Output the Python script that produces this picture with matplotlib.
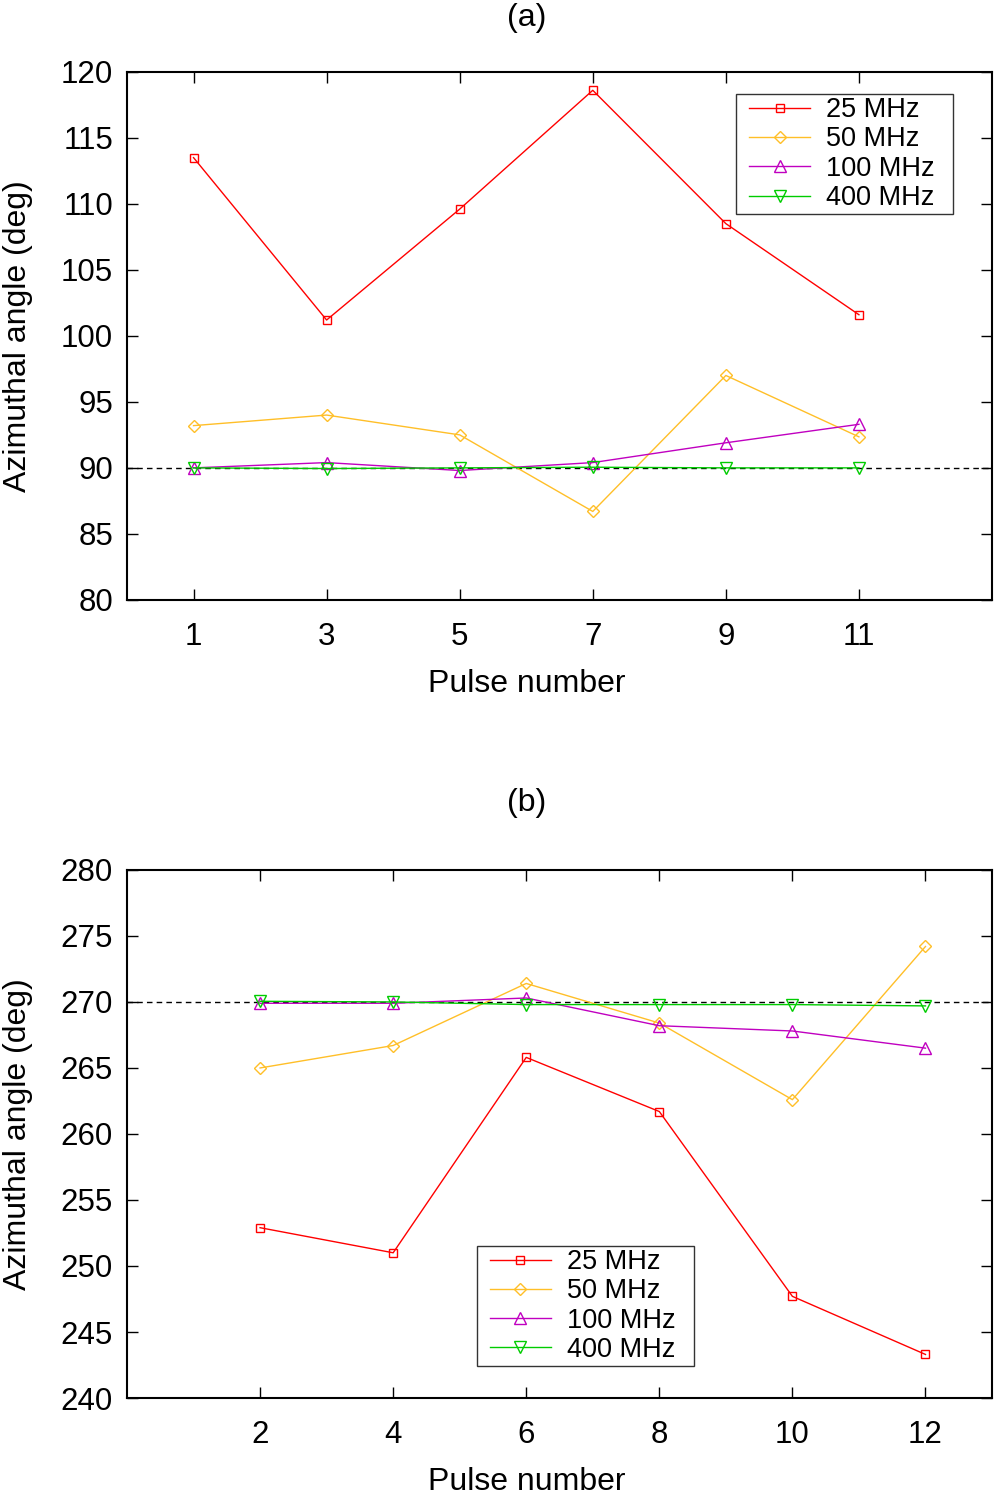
import matplotlib.pyplot as plt
import numpy as np
from matplotlib.legend_handler import HandlerLine2D
from matplotlib.lines import Line2D

plt.rcParams['font.family'] = ['Liberation Sans', 'DejaVu Sans']

# panel (a): odd pulses
pulses_a = [1, 3, 5, 7, 9, 11]
a_25 = [113.5, 101.2, 109.6, 118.6, 108.5, 101.6]
a_50 = [93.2, 94.0, 92.5, 86.7, 97.0, 92.35]
a_100 = [90.0, 90.4, 89.8, 90.4, 91.9, 93.3]
a_400 = [90.0, 89.95, 90.0, 90.05, 90.0, 90.0]

# panel (b): even pulses
pulses_b = [2, 4, 6, 8, 10, 12]
b_25 = [252.9, 251.0, 265.8, 261.7, 247.7, 243.3]
b_50 = [265.0, 266.7, 271.4, 268.4, 262.6, 274.2]
b_100 = [269.9, 269.9, 270.3, 268.2, 267.8, 266.5]
b_400 = [270.05, 270.0, 269.8, 269.8, 269.8, 269.7]

labels = ['25 MHz', '50 MHz', '100 MHz', '400 MHz']
colors = ['#ff0000', '#ffbf28', '#c000c0', '#00cc00']
markers = ['s', 'D', '^', 'v']
msizes = [6, 6, 8, 8]

fig = plt.figure(figsize=(9.96, 14.96), dpi=100)
ax1 = fig.add_axes([0.1275, 0.599, 0.8685, 0.353])
ax2 = fig.add_axes([0.1275, 0.0655, 0.8685, 0.353])


def draw(ax, x, series, ref, ylim, yticks, title, title_y, leg_loc, leg_anchor):
    ax.axhline(ref, color='black', ls=(0, (4, 3)), lw=1.0, zorder=1)
    for y, lab, c, m, ms in zip(series, labels, colors, markers, msizes):
        # trailing spaces give the legend box its right-hand padding
        ax.plot(x, y, color=c, marker=m, ms=ms, mfc='none', mec=c, mew=1.0,
                lw=1.0, label=lab + '  ', zorder=2)
    ax.set_xlim(0, 13)
    ax.set_ylim(*ylim)
    ax.set_xticks(x)
    ax.set_yticks(yticks)
    ax.tick_params(direction='in', top=True, right=True, labelsize=22.5,
                   length=8, width=1)
    ax.tick_params(axis='x', pad=16)
    ax.tick_params(axis='y', pad=10)
    for s in ax.spines.values():
        s.set_linewidth(1.5)
    ax.set_xlabel('Pulse number', fontsize=23, va='center')
    ax.xaxis.set_label_coords(0.4624, -0.159)
    ax.set_ylabel('Azimuthal angle (deg)', fontsize=23, va='center')
    ax.yaxis.set_label_coords(-0.126, 0.5)
    ax.text(0.4624, title_y, title, transform=ax.transAxes, fontsize=23,
            ha='center', va='center')
    leg = ax.legend(loc=leg_loc, bbox_to_anchor=leg_anchor, fontsize=19.5,
                    frameon=True, fancybox=False, edgecolor='black',
                    handlelength=2.61, labelspacing=0.12, borderpad=0.12,
                    handletextpad=0.59, borderaxespad=0,
                    handler_map={Line2D: HandlerLine2D(xpad=0.36)})
    leg.get_frame().set_linewidth(1.0)


draw(ax1, pulses_a, [a_25, a_50, a_100, a_400], 90, (80, 120),
     np.arange(80, 121, 5), '(a)', 1.102, 'upper right', (0.955, 0.958))
draw(ax2, pulses_b, [b_25, b_50, b_100, b_400], 270, (240, 280),
     np.arange(240, 281, 5), '(b)', 1.127, 'lower left', (0.4046, 0.0606))

fig.savefig('out.png', dpi=100)
